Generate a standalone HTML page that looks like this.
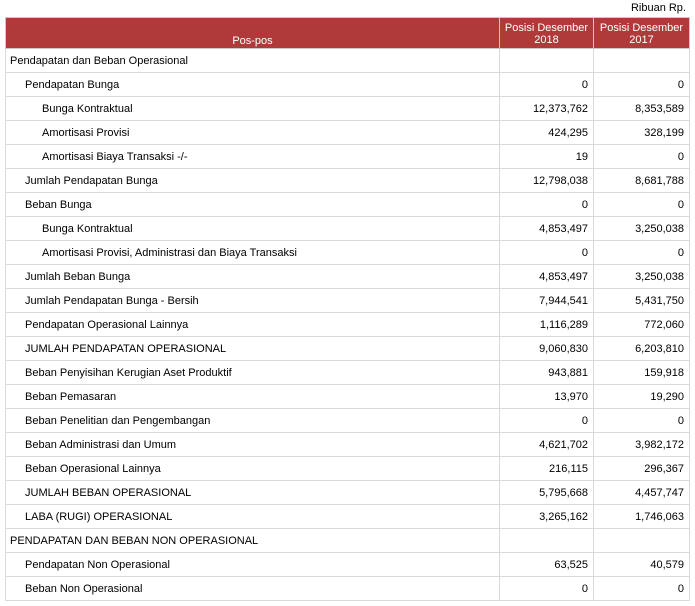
<!DOCTYPE html>
<html><head><style>
body{margin:0;background:#fff;font-family:"Liberation Sans",sans-serif;font-size:11px;color:#000;}
.r{position:absolute;top:2px;right:9px;font-size:11px}
table{position:absolute;left:5px;top:17px;border-collapse:collapse;width:684px;table-layout:fixed}
td,th{border:1px solid #d9d9d9;padding:0 4px;height:23px;white-space:nowrap;overflow:hidden}
th{background:#b03a3a;color:#fff;font-weight:normal;height:28px;border-color:#c9c9c9;line-height:12px;padding-top:1px}
th.p{vertical-align:bottom;padding-bottom:1px}
td.n{text-align:right;padding-right:5px}
.l1{padding-left:19px}.l2{padding-left:36px}
</style></head><body>
<div class="r">Ribuan Rp.</div>
<table>
<colgroup><col style="width:494px"><col style="width:94px"><col style="width:96px"></colgroup>
<tr><th class="p">Pos-pos</th><th>Posisi Desember<br>2018</th><th>Posisi Desember<br>2017</th></tr>
<tr><td>Pendapatan dan Beban Operasional</td><td></td><td></td></tr>
<tr><td class="l1">Pendapatan Bunga</td><td class="n">0</td><td class="n">0</td></tr>
<tr><td class="l2">Bunga Kontraktual</td><td class="n">12,373,762</td><td class="n">8,353,589</td></tr>
<tr><td class="l2">Amortisasi Provisi</td><td class="n">424,295</td><td class="n">328,199</td></tr>
<tr><td class="l2">Amortisasi Biaya Transaksi -/-</td><td class="n">19</td><td class="n">0</td></tr>
<tr><td class="l1">Jumlah Pendapatan Bunga</td><td class="n">12,798,038</td><td class="n">8,681,788</td></tr>
<tr><td class="l1">Beban Bunga</td><td class="n">0</td><td class="n">0</td></tr>
<tr><td class="l2">Bunga Kontraktual</td><td class="n">4,853,497</td><td class="n">3,250,038</td></tr>
<tr><td class="l2">Amortisasi Provisi, Administrasi dan Biaya Transaksi</td><td class="n">0</td><td class="n">0</td></tr>
<tr><td class="l1">Jumlah Beban Bunga</td><td class="n">4,853,497</td><td class="n">3,250,038</td></tr>
<tr><td class="l1">Jumlah Pendapatan Bunga - Bersih</td><td class="n">7,944,541</td><td class="n">5,431,750</td></tr>
<tr><td class="l1">Pendapatan Operasional Lainnya</td><td class="n">1,116,289</td><td class="n">772,060</td></tr>
<tr><td class="l1">JUMLAH PENDAPATAN OPERASIONAL</td><td class="n">9,060,830</td><td class="n">6,203,810</td></tr>
<tr><td class="l1">Beban Penyisihan Kerugian Aset Produktif</td><td class="n">943,881</td><td class="n">159,918</td></tr>
<tr><td class="l1">Beban Pemasaran</td><td class="n">13,970</td><td class="n">19,290</td></tr>
<tr><td class="l1">Beban Penelitian dan Pengembangan</td><td class="n">0</td><td class="n">0</td></tr>
<tr><td class="l1">Beban Administrasi dan Umum</td><td class="n">4,621,702</td><td class="n">3,982,172</td></tr>
<tr><td class="l1">Beban Operasional Lainnya</td><td class="n">216,115</td><td class="n">296,367</td></tr>
<tr><td class="l1">JUMLAH BEBAN OPERASIONAL</td><td class="n">5,795,668</td><td class="n">4,457,747</td></tr>
<tr><td class="l1">LABA (RUGI) OPERASIONAL</td><td class="n">3,265,162</td><td class="n">1,746,063</td></tr>
<tr><td>PENDAPATAN DAN BEBAN NON OPERASIONAL</td><td></td><td></td></tr>
<tr><td class="l1">Pendapatan Non Operasional</td><td class="n">63,525</td><td class="n">40,579</td></tr>
<tr><td class="l1">Beban Non Operasional</td><td class="n">0</td><td class="n">0</td></tr>
</table>
</body></html>
